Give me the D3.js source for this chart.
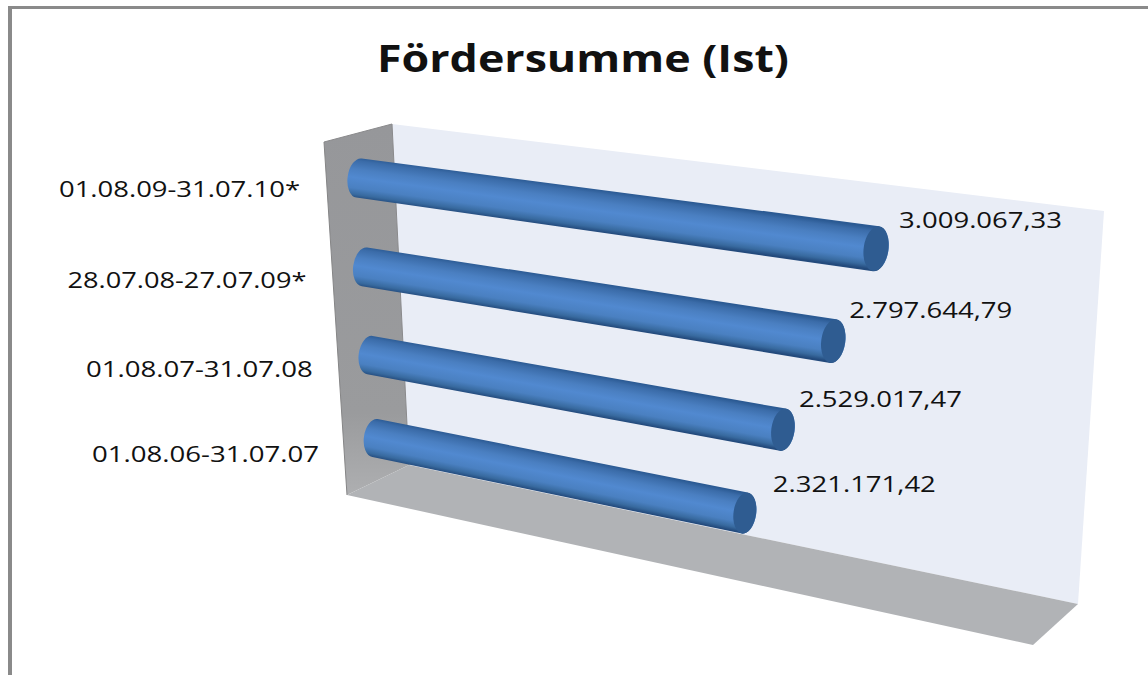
<!DOCTYPE html>
<html>
<head>
<meta charset="utf-8">
<script src="https://cdnjs.cloudflare.com/ajax/libs/d3/7.8.5/d3.min.js"></script>
<style>
  html, body { margin: 0; padding: 0; background: #fff; }
  svg { display: block; }
  text { font-family: "Open Sans", sans-serif; fill: #111; }
</style>
</head>
<body>
<svg id="chart" width="1148" height="675"></svg>
<script>
const title = 'Fördersumme (Ist)';
const categories = ['01.08.09-31.07.10*', '28.07.08-27.07.09*', '01.08.07-31.07.08', '01.08.06-31.07.07'];
const values = [3009067.33, 2797644.79, 2529017.47, 2321171.42];
const valueLabels = ['3.009.067,33', '2.797.644,79', '2.529.017,47', '2.321.171,42'];

const width = 1148;
const height = 675;
const tilt = 8; // degrees, the 3d view leans the bar ends a little

const svg = d3.select('#chart');
const defs = svg.append('defs');

// the bars sit on a plane seen in perspective, so both scales feed a bilinear map
const u = d3.scaleLinear().domain([0, 3000000]).range([0, 1]);
const v = d3.scaleOrdinal().domain(categories).range([0, 0.342, 0.681, 1]);

const planeCorners = { topLeft: [359, 178], topRight: [874.5, 248.5], bottomLeft: [375, 438], bottomRight: [853, 535] };
const radiusCorners = { topLeft: 19.5, topRight: 22.5, bottomLeft: 19, bottomRight: 21 };

const lerp = (a, b, t) => a + (b - a) * t;
const bilinear = (c, s, t) => lerp(lerp(c.topLeft, c.topRight, s), lerp(c.bottomLeft, c.bottomRight, s), t);

const project = (value, category) => {
  const s = u(value);
  const t = v(category);
  const px = lerp(lerp(planeCorners.topLeft[0], planeCorners.topRight[0], s), lerp(planeCorners.bottomLeft[0], planeCorners.bottomRight[0], s), t);
  const py = lerp(lerp(planeCorners.topLeft[1], planeCorners.topRight[1], s), lerp(planeCorners.bottomLeft[1], planeCorners.bottomRight[1], s), t);
  return [px, py, bilinear(radiusCorners, s, t)];
};

// Frame, only top and left show in the picture
svg.append('rect').attr('x', 8).attr('y', 6).attr('width', width).attr('height', 3).attr('fill', '#8a8a8a');
svg.append('rect').attr('x', 8).attr('y', 6).attr('width', 4).attr('height', height).attr('fill', '#8a8a8a');

// Walls
const sideGrad = defs.append('linearGradient').attr('id', 'side-wall').attr('x1', 0).attr('y1', 0).attr('x2', 0).attr('y2', 1);
sideGrad.append('stop').attr('offset', '0%').attr('stop-color', '#96979a');
sideGrad.append('stop').attr('offset', '78%').attr('stop-color', '#9a9b9d');
sideGrad.append('stop').attr('offset', '100%').attr('stop-color', '#aeafb1');

const wall = (points, fill) => svg.append('polygon').attr('points', points.join(' ')).attr('fill', fill);
wall([[392, 124], [1104, 211], [1078, 604], [409, 465]], '#e9edf6');
wall([[324, 142], [392, 124], [409, 465], [347, 495]], 'url(#side-wall)');
wall([[347, 495], [409, 465], [1078, 604], [1033, 645]], '#b1b3b6');
svg.append('path').attr('d', 'M324,142L392,124L409,465').attr('fill', 'none').attr('stroke', '#8a8a8c').attr('stroke-width', 1);
svg.append('path').attr('d', 'M324,142L347,495').attr('fill', 'none').attr('stroke', '#858586').attr('stroke-width', 1);

// Bars
const rad = tilt * Math.PI / 180;
const rows = categories.map((c, i) => ({ category: c, value: values[i], label: valueLabels[i], i }));

rows.forEach(d => {
  const [x0, y0, r0] = project(0, d.category);
  const [x1, y1, r1] = project(d.value, d.category);
  const rx0 = r0 * 0.58;
  const rx1 = r1 * 0.55;
  const dx0 = r0 * Math.sin(rad);
  const dx1 = r1 * Math.sin(rad);

  const angle = Math.atan2(y1 - y0, x1 - x0);
  const mx = (x0 + x1) / 2;
  const my = (y0 + y1) / 2;
  const mr = (r0 + r1) / 2;
  const nx = -Math.sin(angle) * mr;
  const ny = Math.cos(angle) * mr;

  const grad = defs.append('linearGradient')
    .attr('id', `bar-${d.i}`)
    .attr('gradientUnits', 'userSpaceOnUse')
    .attr('x1', mx - nx).attr('y1', my - ny)
    .attr('x2', mx + nx).attr('y2', my + ny);
  [[0, '#2b5a93'], [0.1, '#3b6ca9'], [0.3, '#4a7fc1'], [0.5, '#5189d0'], [0.75, '#4a80c1'], [0.9, '#386a9f'], [1, '#234a7c']].forEach(s => {
    grad.append('stop').attr('offset', s[0]).attr('stop-color', s[1]);
  });

  const body = [
    `M${x0 + dx0},${y0 - r0}`,
    `A${rx0},${r0} ${tilt} 0 0 ${x0 - dx0},${y0 + r0}`,
    `L${x1 - dx1},${y1 + r1}`,
    `A${rx1},${r1} ${tilt} 0 0 ${x1 + dx1},${y1 - r1}`,
    'Z'
  ].join('');

  svg.append('path').attr('class', 'bar').attr('d', body).attr('fill', `url(#bar-${d.i})`);

  svg.append('ellipse')
    .attr('cx', x1).attr('cy', y1)
    .attr('rx', rx1).attr('ry', r1)
    .attr('transform', `rotate(${tilt} ${x1} ${y1})`)
    .attr('fill', '#2f5c91');
});

// Text, the picture is stretched sideways so the widths are forced
svg.append('text')
  .attr('x', 377).attr('y', 72)
  .attr('font-size', 37.5).attr('font-weight', 700)
  .attr('textLength', 412).attr('lengthAdjust', 'spacingAndGlyphs')
  .text(title);

const categoryOffsets = [[-59, 19], [-58, 21], [-57, 22], [-56, 24]];
const categoryWidths = [241, 239, 227, 227];
svg.selectAll('text.category')
  .data(rows)
  .join('text')
  .attr('class', 'category')
  .attr('x', d => project(0, d.category)[0] + categoryOffsets[d.i][0] - categoryWidths[d.i])
  .attr('y', d => project(0, d.category)[1] + categoryOffsets[d.i][1])
  .attr('font-size', 22.5)
  .attr('textLength', d => categoryWidths[d.i]).attr('lengthAdjust', 'spacingAndGlyphs')
  .text(d => d.category);

const labelOffsets = [[23, -21], [16, -23], [16, -23], [28, -21]];
svg.selectAll('text.value')
  .data(rows)
  .join('text')
  .attr('class', 'value')
  .attr('x', d => project(d.value, d.category)[0] + labelOffsets[d.i][0])
  .attr('y', d => project(d.value, d.category)[1] + labelOffsets[d.i][1])
  .attr('font-size', 22.5)
  .attr('textLength', 163).attr('lengthAdjust', 'spacingAndGlyphs')
  .text(d => d.label);
</script>
</body>
</html>
